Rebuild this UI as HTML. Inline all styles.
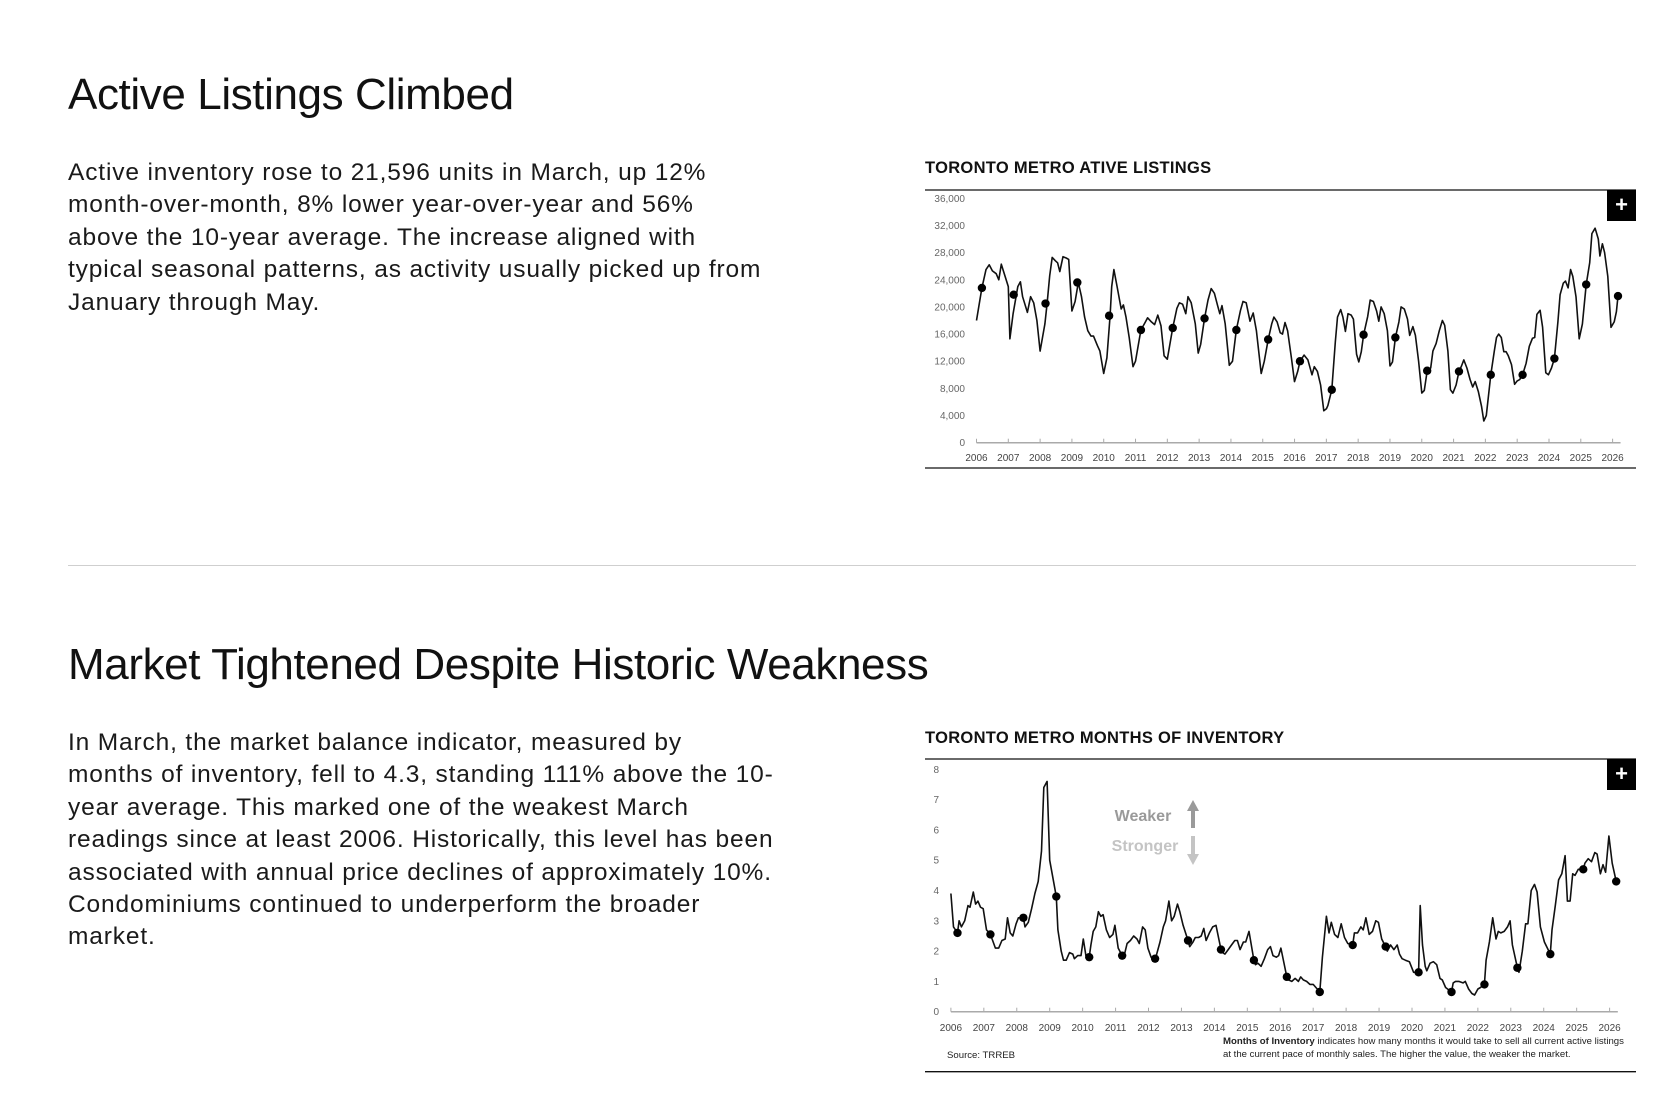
<!DOCTYPE html>
<html><head><meta charset="utf-8">
<style>
html,body{margin:0;padding:0;background:#fff;}
body{width:1674px;height:1110px;position:relative;overflow:hidden;font-family:"Liberation Sans",sans-serif;color:#111;}
h2{position:absolute;left:68px;margin:0;font-weight:normal;font-size:44px;letter-spacing:-0.4px;line-height:50px;white-space:nowrap;}
p{position:absolute;left:68px;margin:0;font-size:24.5px;line-height:32.4px;letter-spacing:0.85px;white-space:nowrap;color:#1a1a1a;}
.rule{position:absolute;left:68px;width:1568px;top:565px;height:1px;background:#cfcfcf;}
svg{position:absolute;left:0;top:0;}
</style></head>
<body>
<h2 style="top:70px">Active Listings Climbed</h2>
<p style="top:157px">Active inventory rose to 21,596 units in March, up 12%<br>month-over-month, 8% lower year-over-year and 56%<br>above the 10-year average. The increase aligned with<br>typical seasonal patterns, as activity usually picked up from<br>January through May.</p>
<div class="rule"></div>
<h2 style="top:640px">Market Tightened Despite Historic Weakness</h2>
<p style="top:727px">In March, the market balance indicator, measured by<br>months of inventory, fell to 4.3, standing 111% above the 10-<br>year average. This marked one of the weakest March<br>readings since at least 2006. Historically, this level has been<br>associated with annual price declines of approximately 10%.<br>Condominiums continued to underperform the broader<br>market.</p>
<svg id="chart" width="1674" height="1110"></svg>
<script>
// ---- Chart 1: active listings (thousands) ----
const years = [2006,2007,2008,2009,2010,2011,2012,2013,2014,2015,2016,2017,2018,2019,2020,2021,2022,2023,2024,2025,2026];
const listTicks = [0,4000,8000,12000,16000,20000,24000,28000,32000,36000];
const listT = [2006.00,2006.17,2006.30,2006.40,2006.50,2006.62,2006.70,2006.78,2006.90,2007.00,2007.05,2007.15,2007.30,2007.38,2007.45,2007.60,2007.70,2007.80,2007.90,2008.00,2008.15,2008.22,2008.30,2008.38,2008.48,2008.55,2008.62,2008.72,2008.82,2008.90,2009.00,2009.10,2009.20,2009.30,2009.40,2009.50,2009.60,2009.68,2009.80,2009.88,2010.00,2010.10,2010.20,2010.25,2010.32,2010.42,2010.55,2010.62,2010.70,2010.80,2010.92,2011.00,2011.17,2011.30,2011.38,2011.50,2011.60,2011.70,2011.80,2011.90,2012.00,2012.17,2012.30,2012.38,2012.48,2012.58,2012.65,2012.75,2012.88,2012.97,2013.05,2013.17,2013.28,2013.38,2013.48,2013.58,2013.65,2013.72,2013.82,2013.95,2014.05,2014.17,2014.30,2014.38,2014.48,2014.60,2014.70,2014.80,2014.95,2015.05,2015.17,2015.28,2015.35,2015.45,2015.55,2015.62,2015.70,2015.78,2015.90,2016.00,2016.10,2016.17,2016.30,2016.42,2016.55,2016.62,2016.72,2016.82,2016.92,2017.00,2017.05,2017.17,2017.28,2017.35,2017.45,2017.52,2017.60,2017.68,2017.78,2017.85,2017.95,2018.02,2018.10,2018.17,2018.30,2018.38,2018.48,2018.58,2018.65,2018.72,2018.82,2018.92,2019.00,2019.08,2019.17,2019.28,2019.35,2019.45,2019.55,2019.62,2019.72,2019.80,2019.90,2020.00,2020.08,2020.17,2020.28,2020.35,2020.45,2020.55,2020.65,2020.72,2020.82,2020.90,2020.98,2021.08,2021.17,2021.25,2021.32,2021.42,2021.52,2021.60,2021.68,2021.78,2021.88,2021.95,2022.03,2022.17,2022.28,2022.35,2022.42,2022.50,2022.58,2022.65,2022.72,2022.82,2022.92,2023.00,2023.08,2023.17,2023.28,2023.38,2023.48,2023.55,2023.62,2023.72,2023.80,2023.90,2023.98,2024.08,2024.17,2024.28,2024.35,2024.45,2024.52,2024.60,2024.68,2024.75,2024.85,2024.95,2025.05,2025.17,2025.28,2025.35,2025.45,2025.55,2025.60,2025.68,2025.75,2025.85,2025.95,2026.05,2026.12,2026.17];
const listV = [18.0,22.8,25.5,26.2,25.3,24.9,24.0,26.3,24.5,23.0,15.3,19.0,23.0,23.7,21.5,19.2,21.5,20.6,18.0,13.5,17.5,20.5,24.6,27.3,26.8,26.5,25.2,27.4,27.2,27.0,19.4,20.8,23.6,21.5,18.5,16.5,15.7,15.7,14.3,13.5,10.2,12.5,18.7,23.0,25.5,23.0,19.7,20.3,18.5,15.5,11.2,12.0,16.6,17.7,18.4,17.8,17.4,18.8,17.2,12.8,12.3,16.9,19.8,20.6,20.4,19.0,21.5,20.6,17.5,13.2,14.5,18.3,21.0,22.7,22.0,20.2,19.0,20.2,17.5,11.4,12.0,16.6,19.5,20.8,20.6,17.9,19.1,16.5,10.2,12.0,15.2,17.5,18.5,17.8,16.2,16.0,17.7,16.5,12.5,9.0,10.5,12.0,12.9,12.2,10.0,11.2,10.5,8.5,4.7,5.0,5.5,7.8,14.8,18.5,19.6,18.5,16.4,19.0,18.8,18.2,13.0,11.9,13.4,15.9,18.6,21.0,20.8,19.4,17.9,20.0,19.0,16.5,11.3,11.9,15.5,17.8,20.0,19.7,18.2,15.8,17.1,15.8,12.0,7.3,7.7,10.6,11.0,13.5,14.6,16.5,18.0,17.3,13.5,7.8,7.3,8.5,10.5,11.3,12.2,11.0,9.3,8.2,9.0,7.5,5.3,3.2,4.0,10.0,13.5,15.5,16.0,15.5,13.4,13.4,12.8,11.5,8.6,9.1,9.3,10.0,11.7,14.2,15.4,15.5,18.9,19.5,17.0,10.3,10.0,11.0,12.4,17.8,21.8,23.5,23.8,22.8,25.5,24.5,21.5,15.3,17.5,23.3,26.5,30.8,31.6,30.0,27.5,29.3,28.0,24.5,17.0,17.8,19.3,21.6];
const listDots = [22.8,21.8,20.5,23.6,18.7,16.6,16.9,18.3,16.6,15.2,12.0,7.8,15.9,15.5,10.6,10.5,10.0,10.0,12.4,23.3,21.6];

// ---- Chart 2: months of inventory ----
const moiTicks = [0,1,2,3,4,5,6,7,8];
const moiT = [2006.00,2006.08,2006.20,2006.25,2006.32,2006.42,2006.52,2006.58,2006.68,2006.75,2006.82,2006.90,2006.98,2007.08,2007.20,2007.25,2007.35,2007.45,2007.55,2007.65,2007.72,2007.80,2007.88,2007.98,2008.05,2008.20,2008.25,2008.35,2008.45,2008.55,2008.65,2008.75,2008.82,2008.92,2009.00,2009.20,2009.25,2009.35,2009.42,2009.50,2009.60,2009.70,2009.75,2009.85,2009.95,2010.02,2010.10,2010.20,2010.25,2010.32,2010.40,2010.48,2010.55,2010.62,2010.72,2010.82,2010.92,2010.98,2011.08,2011.20,2011.25,2011.35,2011.45,2011.55,2011.65,2011.72,2011.82,2011.90,2011.98,2012.08,2012.20,2012.25,2012.35,2012.45,2012.52,2012.62,2012.70,2012.78,2012.88,2012.95,2013.05,2013.20,2013.25,2013.35,2013.42,2013.52,2013.60,2013.68,2013.75,2013.85,2013.95,2014.05,2014.20,2014.25,2014.32,2014.42,2014.52,2014.62,2014.70,2014.78,2014.88,2014.95,2015.05,2015.20,2015.25,2015.32,2015.42,2015.52,2015.62,2015.70,2015.78,2015.88,2015.95,2016.02,2016.20,2016.25,2016.35,2016.45,2016.55,2016.62,2016.70,2016.80,2016.90,2017.00,2017.20,2017.28,2017.40,2017.48,2017.55,2017.65,2017.75,2017.85,2017.95,2018.05,2018.20,2018.25,2018.35,2018.45,2018.52,2018.60,2018.70,2018.80,2018.90,2018.98,2019.08,2019.20,2019.25,2019.35,2019.45,2019.55,2019.62,2019.70,2019.80,2019.92,2020.05,2020.10,2020.20,2020.25,2020.32,2020.40,2020.45,2020.55,2020.65,2020.75,2020.85,2020.92,2021.02,2021.20,2021.25,2021.32,2021.42,2021.55,2021.62,2021.72,2021.82,2021.90,2022.00,2022.08,2022.20,2022.25,2022.35,2022.45,2022.55,2022.62,2022.70,2022.80,2022.90,2022.98,2023.05,2023.20,2023.25,2023.35,2023.45,2023.52,2023.62,2023.72,2023.80,2023.90,2024.02,2024.20,2024.25,2024.35,2024.45,2024.55,2024.65,2024.72,2024.80,2024.88,2024.95,2025.05,2025.20,2025.25,2025.35,2025.45,2025.55,2025.62,2025.72,2025.80,2025.88,2025.98,2026.08,2026.20];
const moiV = [3.9,2.8,2.6,3.0,2.8,3.0,3.5,3.45,3.95,3.55,3.65,3.45,3.4,2.7,2.55,2.4,2.1,2.1,2.35,2.4,3.1,2.6,2.5,2.9,3.1,3.1,2.8,2.95,3.4,3.9,4.3,5.3,7.4,7.6,5.0,3.8,2.7,2.0,1.7,1.7,1.95,1.9,1.75,1.85,1.85,2.4,1.85,1.8,2.2,2.65,2.8,3.3,3.15,3.2,2.7,2.45,2.55,2.85,2.1,1.85,1.8,2.25,2.35,2.5,2.4,2.25,2.8,2.7,2.1,1.8,1.75,1.9,2.3,2.8,3.0,3.65,3.0,3.15,3.55,3.3,2.85,2.35,2.15,2.3,2.45,2.45,2.5,2.75,2.35,2.6,2.8,2.85,2.05,1.95,1.9,2.05,2.2,2.35,2.35,2.05,2.3,2.3,2.65,1.7,1.55,1.6,1.5,1.75,2.05,2.15,1.85,1.8,1.85,2.1,1.15,1.05,1.0,1.1,1.0,1.15,1.05,1.0,0.9,0.9,0.65,1.8,3.15,2.6,2.95,2.55,2.45,2.9,2.45,2.25,2.2,2.6,2.6,2.8,2.7,3.1,2.55,2.65,3.0,2.95,2.4,2.15,2.0,2.2,2.05,2.2,1.9,1.75,1.7,1.65,1.3,1.3,1.3,3.5,2.2,1.5,1.35,1.6,1.65,1.55,1.1,1.05,0.8,0.65,0.95,1.0,1.0,0.95,1.0,0.75,0.6,0.55,0.75,0.8,0.9,1.7,2.3,3.1,2.4,2.65,2.6,2.65,2.8,3.0,2.2,1.45,1.3,2.0,2.9,2.9,4.0,4.2,3.95,2.8,2.3,1.9,2.7,3.5,4.35,4.55,5.15,3.65,3.65,4.55,4.5,4.7,4.7,4.9,5.05,4.95,5.25,5.2,4.55,4.85,4.6,5.8,4.9,4.3];
const moiDots = [2.6,2.55,3.1,3.8,1.8,1.85,1.75,2.35,2.05,1.7,1.15,0.65,2.2,2.15,1.3,0.65,0.9,1.45,1.9,4.7,4.3];

const NS='http://www.w3.org/2000/svg';
const svg=document.getElementById('chart');
function mk(tag,attrs,parent){const e=document.createElementNS(NS,tag);for(const k in attrs)e.setAttribute(k,attrs[k]);(parent||svg).appendChild(e);return e;}

function drawChart(cfg){
  const g=mk('g',{});
  
  
  const x=t=>cfg.x0+(t-2006)*(cfg.x1-cfg.x0)/20;
  const y=v=>cfg.y0-(v-cfg.ticks[0])*(cfg.y0-cfg.yTop)/(cfg.ticks[cfg.ticks.length-1]-cfg.ticks[0]);
  const title=mk('text',{x:cfg.left,y:cfg.titleY,'font-size':16.5,'font-weight':'bold','letter-spacing':'0.3','fill':'#111'},g);
  title.textContent=cfg.title;
  
  
  const top=mk('line',{x1:cfg.left,x2:1636,y1:cfg.topLine,y2:cfg.topLine,stroke:'#111','stroke-width':1.3},g);
  
  
  const bot=mk('line',{x1:cfg.left,x2:1636,y1:cfg.botLine,y2:cfg.botLine,stroke:'#111','stroke-width':1.3},g);
  
  
  cfg.ticks.forEach(v=>{
    const t=mk('text',{x:cfg.labelX,y:y(v)+3.5,'font-size':10,'text-anchor':'end',fill:'#666'},g);
    t.textContent=cfg.fmt(v);
    
    
  });
  const ax=mk('line',{x1:x(2006),x2:x(2026.25),y1:y(cfg.ticks[0]),y2:y(cfg.ticks[0]),stroke:'#aaa','stroke-width':1.5},g);
  
  
  years.forEach(yr=>{
    const tk=mk('line',{x1:x(yr),x2:x(yr),y1:y(cfg.ticks[0])-4,y2:y(cfg.ticks[0]),stroke:'#aaa','stroke-width':1},g);
    
    
    const t=mk('text',{x:x(yr),y:cfg.yearY,'font-size':10,'text-anchor':'middle',fill:'#444'},g);
    t.textContent=yr;
    
    
  });
  const d=cfg.T.map((t,i)=>(i?'L':'M')+x(t).toFixed(1)+','+y(cfg.V[i]*cfg.scale).toFixed(1)).join('');
  const p=mk('path',{d:d,fill:'none',stroke:'#111','stroke-width':1.6,'stroke-linejoin':'round'},g);
  
  
  cfg.dots.forEach((v,i)=>{
    const c=mk('circle',{cx:x(years[i]+cfg.dotOff),cy:y(v*cfg.scale),r:4.2,fill:'#000'},g);
    
    
  });
  const b=mk('rect',{x:1607,y:cfg.topLine,width:29,height:31,fill:'#000'},g);
  
  
  const pl=mk('text',{x:1621.5,y:cfg.topLine+22,'font-size':22,'font-weight':'bold','text-anchor':'middle',fill:'#fff'},g);
  pl.textContent='+';
  
  
  return {x,y,g};
}

drawChart({name:'active-listings-chart',title:'TORONTO METRO ATIVE LISTINGS',left:925,titleY:173,topLine:190,botLine:468,
  x0:976.5,x1:1612.6,y0:442.7,yTop:198.3,ticks:listTicks,labelX:965,yearY:461,
  fmt:v=>v.toLocaleString('en-US'),T:listT,V:listV,scale:1000,dots:listDots,dotOff:0.17});

const c2=drawChart({name:'months-of-inventory-chart',title:'TORONTO METRO MONTHS OF INVENTORY',left:925,titleY:743,topLine:759,botLine:1071.7,
  x0:950.9,x1:1609.6,y0:1011.7,yTop:769.3,ticks:moiTicks,labelX:939,yearY:1031,
  fmt:v=>String(v),T:moiT,V:moiV,scale:1,dots:moiDots,dotOff:0.2});

function txt(s,a,name){const t=mk('text',a,c2.g);t.textContent=s;return t;}
txt('Weaker',{x:1143,y:821,'font-size':16,'font-weight':'bold','text-anchor':'middle',fill:'#9a9a9a'},'weaker-label');
txt('Stronger',{x:1145,y:851,'font-size':16,'font-weight':'bold','text-anchor':'middle',fill:'#c4c4c4'},'stronger-label');
const up=mk('path',{d:'M1193,800 L1187,811 L1191,811 L1191,828 L1195,828 L1195,811 L1199,811 Z',fill:'#9a9a9a'},c2.g);


const dn=mk('path',{d:'M1193,865 L1187,854 L1191,854 L1191,836 L1195,836 L1195,854 L1199,854 Z',fill:'#c4c4c4'},c2.g);


const fn=mk('text',{x:1223,y:1044,'font-size':9.6,fill:'#222'},c2.g);


fn.innerHTML='<tspan font-weight="bold">Months of Inventory</tspan> indicates how many months it would take to sell all current active listings<tspan x="1223" dy="13">at the current pace of monthly sales. The higher the value, the weaker the market.</tspan>';
txt('Source: TRREB',{x:947,y:1058,'font-size':9.6,fill:'#222'},'source-note');
</script>
</body></html>
